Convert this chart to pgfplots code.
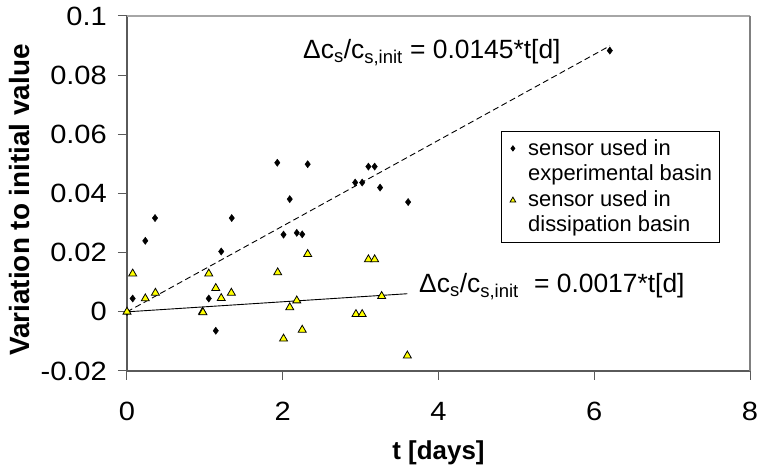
\documentclass[border=0pt]{standalone}
\usepackage{pgfplots}
\pgfplotsset{compat=1.18}
\usepackage{fontspec}
\setmainfont{Liberation Sans}
\newfontfamily\tickfont{Liberation Sans}[FakeStretch=1.1]
\definecolor{axdark}{HTML}{5A5A5A}
\definecolor{axtop}{HTML}{A6A6A6}
\definecolor{axright}{HTML}{808080}
\definecolor{myyellow}{HTML}{FFFF00}
\pgfplotsset{
  diamimg/.style={legend image code/.code={\path[draw=none] (0bp,0bp) -- (20bp,0bp);
     \path[draw=none] plot[only marks, mark=diamond*, mark size=2.6bp, mark options={fill=black, draw=black}] coordinates {(4.7bp,0bp)};}},
  triimg/.style={legend image code/.code={\path[draw=none] (0bp,0bp) -- (20bp,0bp);
     \path[draw=none] plot[only marks, mark=triangle*, mark size=3.3bp, mark options={fill=myyellow, draw=black, line width=0.8bp}] coordinates {(4.7bp,-1bp)};}},
  blankimg/.style={legend image code/.code={\path[draw=none] (0bp,0bp) -- (20bp,0bp);}},
}
\begin{document}
\begin{tikzpicture}[x=1bp,y=1bp]
\useasboundingbox (-127,-98) rectangle (632,371);
\begin{axis}[
  at={(0,0)}, anchor=south west,
  scale only axis, width=623bp, height=355bp,
  xmin=0, xmax=8, ymin=-0.02, ymax=0.1,
  clip=false,
  axis line style={draw=none},
  xtick={0,2,4,6,8}, xticklabels={0,2,4,6,8},
  ytick={-0.02,0,0.02,0.04,0.06,0.08,0.1},
  yticklabels={-0.02,0,0.02,0.04,0.06,0.08,0.1},
  xtick pos=bottom, ytick pos=left,
  tick align=outside, major tick length=9bp,
  tick style={axdark, line width=1bp},
  ticklabel style={font=\tickfont\fontsize{26.5}{30}\selectfont, inner sep=0pt},
  xticklabel style={anchor=north, yshift=-22bp},
  yticklabel style={anchor=east, xshift=-11bp},
  xlabel={t [days]},
  xlabel style={font=\fontsize{26}{30}\selectfont\bfseries, at={(axis description cs:0.5,-0.2507)}, anchor=base, inner sep=0pt},
  ylabel={Variation to initial value},
  ylabel style={font=\fontsize{28}{30}\selectfont\bfseries, at={(axis description cs:-0.1717,0.4817)}, anchor=center, inner sep=0pt},
  legend style={at={(axis description cs:0.6,0.676)}, anchor=north west, draw=black, line width=0.8bp,
    font=\fontsize{22}{25}\selectfont, inner xsep=7bp, inner ysep=7bp,
    nodes={inner sep=0pt, text height=17bp, text depth=3bp}, cells={anchor=west}, row sep=5.5bp, column sep=0pt},
]
\addplot[black, line width=0.9bp, dash pattern=on 6bp off 3.5bp, forget plot] coordinates {(0,0) (6.2,0.0899)};
\addplot[black, line width=0.9bp, forget plot] coordinates {(0,0) (3.6,0.00612)};
\addplot[only marks, mark=diamond*, mark size=3.6bp, mark options={fill=black, draw=black}, diamimg] coordinates {
(0,0) (0.073,0.0045) (0.235,0.024) (0.36,0.0317) (1.05,0.0045) (1.14,-0.0064) (1.21,0.0204)
(1.345,0.0317) (1.93,0.0504) (2.01,0.0261) (2.09,0.0381) (2.18,0.0267) (2.25,0.0262) (2.32,0.0499)
(2.93,0.0437) (3.02,0.0437) (3.10,0.0491) (3.18,0.0491) (3.25,0.042) (3.61,0.0371) (6.20,0.0883)};
\addlegendentry{sensor used in}
\addlegendimage{blankimg}
\addlegendentry{experimental basin}
\addplot[only marks, mark=triangle*, mark size=4.6bp, mark options={fill=myyellow, draw=black, line width=0.8bp}, triimg] coordinates {
(0,0) (0.073,0.0129) (0.235,0.0045) (0.365,0.0064) (0.97,0) (0.975,-0.0002) (1.05,0.0129) (1.14,0.008)
(1.21,0.0046) (1.34,0.0064) (1.935,0.0133) (2.01,-0.0091) (2.09,0.0015) (2.18,0.0038) (2.25,-0.0061)
(2.32,0.0195) (2.94,-0.0008) (3.02,-0.0008) (3.10,0.0177) (3.18,0.0177) (3.27,0.0053) (3.60,-0.0148)};
\addlegendentry{sensor used in}
\addlegendimage{blankimg}
\addlegendentry{dissipation basin}
\node[anchor=base west, inner sep=0pt, font=\fontsize{26.5}{30}\selectfont] at (axis cs:2.26,0.0855)
  {Δc\textsubscript{s}/c\textsubscript{s,init} = 0.0145*t[d]};
\node[anchor=base west, inner sep=0pt, font=\fontsize{26.5}{30}\selectfont] at (axis cs:3.75,0.0065)
  {Δc\textsubscript{s}/c\textsubscript{s,init}\hspace{0.3em} = 0.0017*t[d]};
\draw[axdark, line width=1.2bp] (rel axis cs:0,1) -- (rel axis cs:0,0) -- (rel axis cs:1,0);
\draw[axtop, line width=1.2bp] (rel axis cs:0,1) -- (rel axis cs:1,1);
\draw[axright, line width=1.2bp] (rel axis cs:1,1) -- (rel axis cs:1,0);
\end{axis}
\end{tikzpicture}
\end{document}
